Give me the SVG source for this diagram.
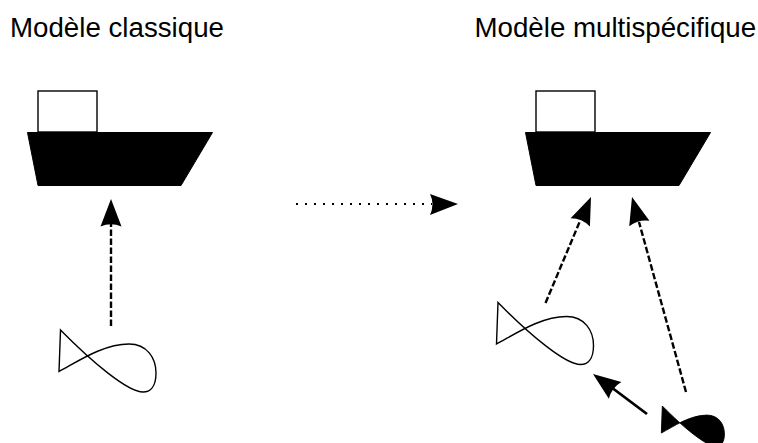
<svg xmlns="http://www.w3.org/2000/svg" width="758" height="443" viewBox="0 0 758 443">
<style>
text{font-family:"Liberation Sans",Arial,sans-serif;font-size:27.7px;fill:#000}
.hull{fill:#000;stroke:#000;stroke-width:1}
.cabin{fill:#fff;stroke:#000;stroke-width:1.4}
.fish{fill:#fff;stroke:#000;stroke-width:1.4;stroke-linejoin:miter}
.fishb{fill:#000;stroke:#000;stroke-width:1.4}
.dash{fill:none;stroke:#000;stroke-width:2.4;stroke-dasharray:6.500 2.500}
.dot{fill:none;stroke:#000;stroke-width:2;stroke-dasharray:2 7}
.solid{fill:none;stroke:#000;stroke-width:2.8}
.head{fill:#000}
</style>
<defs>
<path id="fishshape" d="M0.5 0 L-1 41.500 C17 32 43 14 69 14 C87 14 96 28 96 43 C96 57 90 62 83 62 C68 62 33 33 0.500 0Z"/>
<path id="ah" d="M0 0 L10.500 27.500 Q0 23 -10.500 27.500Z"/>
</defs>
<g id="title-left"><text x="10" y="37">Modèle classique</text></g>
<g id="title-right"><text x="474.500" y="37">Modèle multispécifique</text></g>
<g id="boat-left">
<rect class="cabin" x="38" y="91" width="59" height="41"/>
<path class="hull" d="M27.500 132.500H212.500L181 185.500H38Z"/>
</g>
<g id="boat-right">
<rect class="cabin" x="536" y="91" width="59" height="41"/>
<path class="hull" d="M525.500 132.500H710.500L679 185.500H536Z"/>
</g>
<g id="fish-left"><use href="#fishshape" class="fish" transform="translate(60 330)"/></g>
<g id="fish-right"><use href="#fishshape" class="fish" transform="translate(497.500 302.500)"/></g>
<g id="fish-small"><use href="#fishshape" class="fishb" transform="translate(662 406) scale(.65)"/></g>
<g id="connectors">
<path class="dash" d="M111 326V224"/>
<use href="#ah" class="head" transform="translate(111 199)"/>
<path class="dash" d="M545.500 303L580 221"/>
<use href="#ah" class="head" transform="translate(591 197) rotate(23)"/>
<path class="dash" d="M686 392L639 222"/>
<use href="#ah" class="head" transform="translate(632 197) rotate(-15.500)"/>
<path class="solid" d="M647 414L607 384"/>
<use href="#ah" class="head" transform="translate(593 374) rotate(-53.500)"/>
<path class="dot" d="M296 204H432"/>
<path class="head" d="M458 204L430 194Q435 204 430 215Z"/>
</g>
</svg>
